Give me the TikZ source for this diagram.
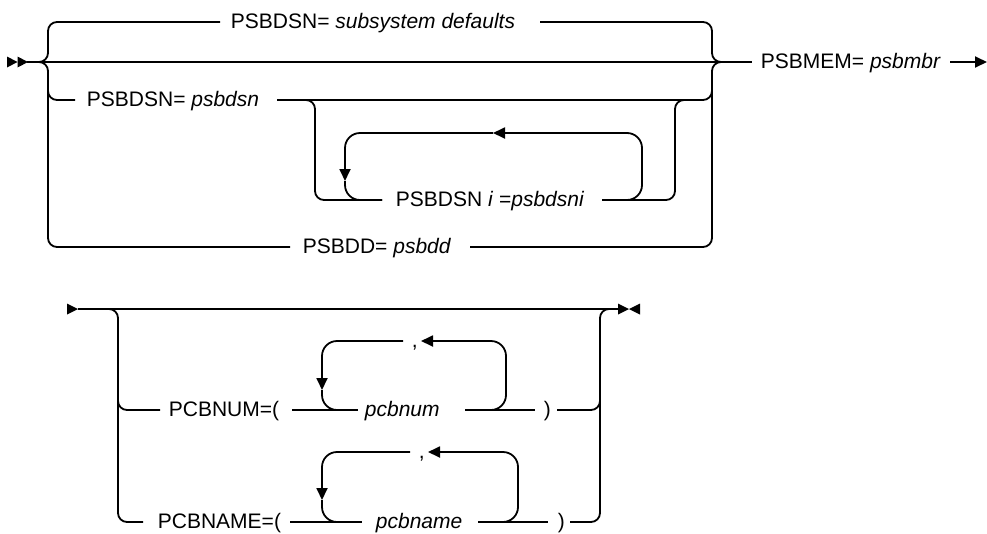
\documentclass[tikz,border=0pt]{standalone}
\usepackage{fontspec}
\setmainfont{Liberation Sans}
\usetikzlibrary{arrows.meta}
\begin{document}
\begin{tikzpicture}[x=1pt,y=-1pt,line width=1.8pt,
  rc/.style={rounded corners=9pt},
  rcl/.style={rounded corners=15pt},
  lbl/.style={inner sep=0pt, anchor=base west, font=\fontsize{21}{25}\selectfont},
  tip/.style={-{Triangle[length=12pt,width=11pt]}}]
\useasboundingbox (0,0) rectangle (987,533);

% ---------- top diagram ----------
\fill (7,56.5) -- (17.5,62) -- (7,67.5) -- cycle;
\fill (17.5,56.5) -- (28,62) -- (17.5,67.5) -- cycle;

\coordinate (s0) at (27,62);
\coordinate (Lm) at (48,62);
\coordinate (L1) at (48,22);
\coordinate (L3) at (48,100);
\coordinate (L4) at (48,247);
\coordinate (Rm) at (712,62);
\coordinate (R1) at (712,22);
\coordinate (R3) at (712,100);
\coordinate (R4) at (712,247);

\node[lbl] (T1) at (230,28.5) {PSBDSN= \textit{subsystem defaults}};
\coordinate (t1L) at (220,22);
\coordinate (t1R) at (540,22);
\node[lbl] (T3) at (86,106.5) {PSBDSN= \textit{psbdsn}};
\coordinate (t3L) at (75,100);
\coordinate (t3R) at (277,100);
\node[lbl] (T4) at (395,206.5) {PSBDSN \textit{i} =\textit{psbdsni}};
\coordinate (t4L) at (382,200);
\coordinate (t4R) at (602,200);
\node[lbl] (T5) at (302,253.5) {PSBDD= \textit{psbdd}};
\coordinate (t5L) at (290,247);
\coordinate (t5R) at (470,247);
\node[lbl] (TM) at (760,68.5) {PSBMEM= \textit{psbmbr}};
\coordinate (tmL) at (752,62);
\coordinate (tmR) at (950,62);
\coordinate (tmE) at (987,62);

% main line
\draw (s0) -- (tmL);
\draw[tip] (tmR) -- (tmE);
% left brace
\draw[rc] (36,62) -- (Lm) -- (L1) -- (t1L);
\draw[rc] (36,62) -- (Lm) -- (L4) -- (t5L);
\draw[rc] (48,85) -- (L3) -- (t3L);
% right brace
\draw[rc] (t1R) -- (R1) -- (Rm) -- (724,62);
\draw[rc] (t5R) -- (R4) -- (Rm) -- (724,62);
\draw[rc] (t3R) -- (R3) -- (712,85);

% optional repeat group
\coordinate (G1) at (315,100);
\coordinate (G2) at (315,200);
\coordinate (G3) at (675,200);
\coordinate (G4) at (675,100);
\draw[rc] (305,100) -- (G1) -- (G2) -- (t4L);
\draw[rc] (t4R) -- (G3) -- (G4) -- (687,100);
% repeat loop
\coordinate (Q1) at (642,200);
\coordinate (Q2) at (642,133);
\coordinate (Q3) at (345,133);
\coordinate (Q4) at (345,200);
\coordinate (a1) at (493,133);
\coordinate (a2) at (345,181);
\draw[rcl,tip] (t4R) -- (Q1) -- (Q2) -- (a1);
\draw[rcl,tip] (a1) -- (Q3) -- (a2);
\draw[rcl] (a2) -- (Q4) -- (t4L);

% ---------- bottom diagram ----------
\fill (67,303.5) -- (78,309) -- (67,314.5) -- cycle;
\fill (618,303.5) -- (629,309) -- (618,314.5) -- cycle;
\fill (640,303.5) -- (629,309) -- (640,314.5) -- cycle;
\coordinate (b0) at (78,309);
\coordinate (bE) at (618,309);
\draw (b0) -- (bE);

\coordinate (BL0) at (118,309);
\coordinate (BL1) at (118,410);
\coordinate (BL2) at (118,522);
\coordinate (BR0) at (600,309);
\coordinate (BR1) at (600,410);
\coordinate (BR2) at (600,522);

% PCBNUM row
\node[lbl] (P1) at (168,416.5) {PCBNUM=(};
\coordinate (p1L) at (160,410);
\coordinate (p1R) at (292,410);
\node[lbl] (V1) at (364,416.5) {\textit{pcbnum}};
\coordinate (v1L) at (358,410);
\coordinate (v1R) at (465,410);
\node[lbl] (C1) at (543,416.5) {)};
\coordinate (c1L) at (535,410);
\coordinate (c1R) at (557,410);
\draw (p1R) -- (v1L);
\draw (v1R) -- (c1L);

% PCBNAME row
\node[lbl] (P2) at (157,528.5) {PCBNAME=(};
\coordinate (p2L) at (143,522);
\coordinate (p2R) at (290,522);
\node[lbl] (V2) at (375,528.5) {\textit{pcbname}};
\coordinate (v2L) at (362,522);
\coordinate (v2R) at (478,522);
\node[lbl] (C2) at (557,528.5) {)};
\coordinate (c2L) at (548,522);
\coordinate (c2R) at (570,522);
\draw (p2R) -- (v2L);
\draw (v2R) -- (c2L);

% side brackets
\draw[rc] (106,309) -- (BL0) -- (BL2) -- (p2L);
\draw[rc] (118,395) -- (BL1) -- (p1L);
\draw[rc] (c2R) -- (BR2) -- (BR0) -- (612,309);
\draw[rc] (c1R) -- (BR1) -- (600,395);

% pcbnum loop
\coordinate (K1a) at (506,410);
\coordinate (K1b) at (506,341);
\coordinate (K1c) at (322,341);
\coordinate (K1d) at (322,410);
\node[lbl] (cm1) at (411,347) {,};
\coordinate (cm1L) at (403,341);
\coordinate (a3) at (421,341);
\coordinate (a4) at (322,390);
\draw[rcl,tip] (488,410) -- (K1a) -- (K1b) -- (a3);
\draw[rcl,tip] (cm1L) -- (K1c) -- (a4);
\draw[rcl] (a4) -- (K1d) -- (345,410);

% pcbname loop
\coordinate (K2a) at (518,522);
\coordinate (K2b) at (518,452);
\coordinate (K2c) at (322,452);
\coordinate (K2d) at (322,522);
\node[lbl] (cm2) at (418,458) {,};
\coordinate (cm2L) at (410,452);
\coordinate (a5) at (428,452);
\coordinate (a6) at (322,500);
\draw[rcl,tip] (500,522) -- (K2a) -- (K2b) -- (a5);
\draw[rcl,tip] (cm2L) -- (K2c) -- (a6);
\draw[rcl] (a6) -- (K2d) -- (345,522);
\end{tikzpicture}
\end{document}
